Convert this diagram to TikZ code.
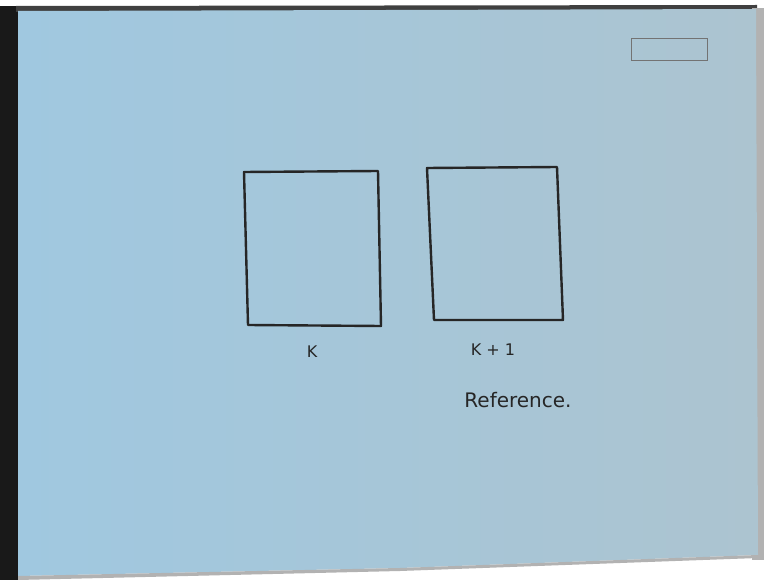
\documentclass[tikz,border=0pt]{standalone}
\usepackage{fontspec}
\setmainfont{DejaVu Sans}
\begin{document}
\begin{tikzpicture}[x=1pt,y=-1pt,
  ink/.style={draw=black!85,line width=2.4pt,line join=round,line cap=round},
  hand/.style={text=black!85,inner sep=0pt,font=\fontsize{16}{18}\selectfont}]
\useasboundingbox (0,0) rectangle (764,580);
\fill[white] (0,0) rectangle (764,580);
% dark frame edges
\fill[black!90] (0,6) rectangle (20,580);
\fill[black!75] (16,6) -- (757,5) -- (757,11) -- (16,12) -- cycle;
\fill[black!30] (752,8) rectangle (764,560);
% paper
\shade[left color={rgb,255:red,160;green,200;blue,224}, right color={rgb,255:red,172;green,196;blue,208}]
  (18,11) -- (756,9) -- (758,555) -- (400,568) -- (18,576) -- cycle;
\fill[black!30] (18,576) -- (400,568) -- (758,555) -- (758,558) -- (400,571) -- (18,580) -- cycle;
% top-right stamp
\node[draw=black!55,line width=0.8pt,minimum width=76pt,minimum height=22pt,inner sep=0pt] (stamp) at (669,49) {};
% boxes
\draw[ink] (244,172) -- (378,171) -- (381,326) -- (248,325) -- cycle;
\draw[ink] (427,168) -- (557,167) -- (563,320) -- (434,320) -- cycle;
% labels
\node[hand] (k) at (312,352) {K};
\node[hand] (k1) at (493,350) {K + 1};
\node[hand,font=\fontsize{20}{22}\selectfont] (ref) at (518,400) {Reference.};
\end{tikzpicture}
\end{document}
